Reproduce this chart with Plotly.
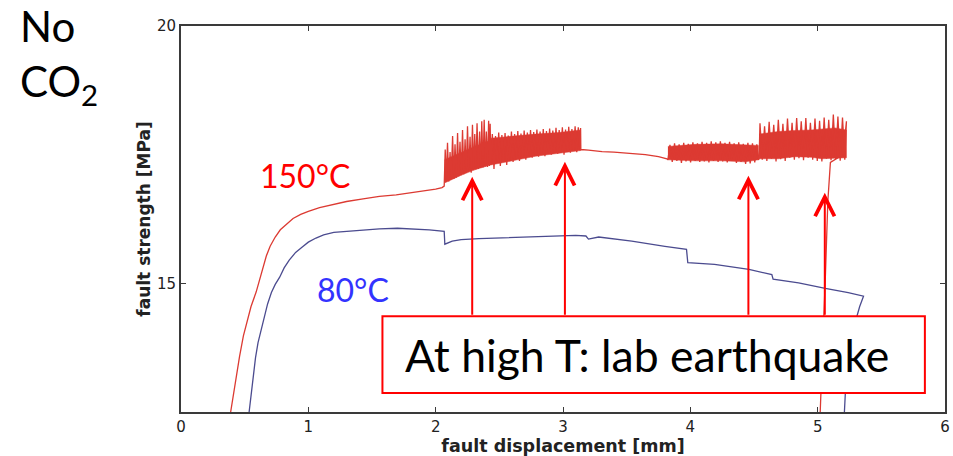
import plotly.graph_objects as go

# ---------------- data ----------------
# 150 °C run: loading branch
red_load_x = [0.39, 0.41, 0.436, 0.46, 0.49, 0.52, 0.55, 0.59, 0.63, 0.67, 0.70, 0.74, 0.78, 0.83, 0.88, 0.94, 1.0, 1.088, 1.2, 1.30, 1.43, 1.558, 1.69, 1.817, 1.93, 2.0, 2.05, 2.067]
red_load_y = [12.5, 12.82, 13.2, 13.58, 13.98, 14.28, 14.55, 14.83, 15.2, 15.53, 15.72, 15.9, 16.04, 16.16, 16.26, 16.34, 16.40, 16.47, 16.54, 16.59, 16.64, 16.69, 16.72, 16.76, 16.80, 16.83, 16.86, 16.89]

# stick-slip region A
red_a_x = [2.075, 2.083, 2.093, 2.103, 2.113, 2.122, 2.133, 2.143, 2.152, 2.162, 2.172, 2.181, 2.191, 2.201, 2.211, 2.221, 2.231, 2.240, 2.250, 2.260, 2.270, 2.279, 2.289, 2.298, 2.307, 2.315, 2.325, 2.335, 2.345, 2.355, 2.362, 2.372, 2.381, 2.390, 2.398, 2.407, 2.416, 2.423, 2.428]
red_a_y = [17.60, 17.00, 17.73, 16.98, 17.55, 17.02, 17.86, 17.03, 17.70, 17.05, 17.92, 17.08, 17.75, 17.10, 17.98, 17.12, 17.80, 17.15, 18.05, 17.18, 17.85, 17.15, 18.08, 17.20, 17.90, 17.21, 18.11, 17.22, 17.95, 17.24, 18.15, 17.25, 18.18, 17.27, 17.95, 17.26, 18.16, 17.28, 18.10]

# stick-slip region B
red_b_x = [2.433, 2.445, 2.458, 2.470, 2.483, 2.495, 2.508, 2.520, 2.533, 2.545, 2.558, 2.570, 2.583, 2.595, 2.608, 2.620, 2.633, 2.645, 2.658, 2.670, 2.683, 2.695, 2.708, 2.720, 2.733, 2.745, 2.758, 2.770, 2.783, 2.795, 2.808, 2.820, 2.833, 2.845, 2.858, 2.870, 2.883, 2.895, 2.908, 2.920, 2.933, 2.945, 2.958, 2.970, 2.983, 2.995, 3.008, 3.020, 3.033, 3.045, 3.058, 3.070, 3.083, 3.095, 3.108, 3.120, 3.133, 3.138]
red_b_y = [17.30, 17.90, 17.22, 17.86, 17.35, 17.93, 17.28, 17.88, 17.38, 17.92, 17.30, 17.87, 17.40, 17.95, 17.36, 17.90, 17.42, 17.96, 17.38, 17.91, 17.45, 17.97, 17.40, 17.93, 17.47, 17.98, 17.44, 17.94, 17.49, 17.99, 17.46, 17.95, 17.50, 18.00, 17.47, 17.96, 17.52, 18.01, 17.50, 17.97, 17.54, 18.02, 17.52, 17.98, 17.55, 18.03, 17.50, 17.99, 17.56, 18.04, 17.54, 18.00, 17.57, 18.05, 17.55, 18.03, 17.58, 18.02]

# stable sliding between B and C
red_slide_x = [3.140, 3.20, 3.307, 3.40, 3.516, 3.647, 3.75, 3.816]
red_slide_y = [17.60, 17.59, 17.56, 17.55, 17.53, 17.50, 17.46, 17.42]

# stick-slip region C
red_c_x = [3.824, 3.840, 3.858, 3.876, 3.894, 3.912, 3.930, 3.948, 3.966, 3.984, 4.002, 4.020, 4.038, 4.056, 4.074, 4.092, 4.110, 4.128, 4.146, 4.164, 4.182, 4.200, 4.218, 4.236, 4.254, 4.272, 4.290, 4.308, 4.326, 4.344, 4.362, 4.380, 4.398, 4.416, 4.434, 4.452, 4.470, 4.488, 4.506, 4.522, 4.534]
red_c_y = [17.40, 17.69, 17.36, 17.72, 17.38, 17.70, 17.34, 17.73, 17.37, 17.71, 17.35, 17.74, 17.38, 17.72, 17.36, 17.75, 17.37, 17.73, 17.35, 17.76, 17.38, 17.74, 17.36, 17.76, 17.37, 17.73, 17.35, 17.75, 17.38, 17.72, 17.34, 17.74, 17.36, 17.71, 17.32, 17.73, 17.33, 17.72, 17.35, 17.70, 17.40]

# stick-slip region D
red_d_x = [4.540, 4.547, 4.565, 4.583, 4.601, 4.619, 4.637, 4.655, 4.673, 4.691, 4.709, 4.727, 4.745, 4.763, 4.781, 4.799, 4.817, 4.835, 4.853, 4.871, 4.889, 4.907, 4.925, 4.943, 4.961, 4.979, 4.997, 5.015, 5.033, 5.051, 5.069, 5.087, 5.105, 5.123, 5.141, 5.159, 5.177, 5.195, 5.213, 5.226]
red_d_y = [17.42, 18.11, 17.40, 18.05, 17.38, 18.14, 17.42, 18.08, 17.37, 18.18, 17.41, 18.10, 17.38, 18.20, 17.44, 18.12, 17.40, 18.21, 17.43, 18.15, 17.39, 18.21, 17.44, 18.12, 17.40, 18.20, 17.38, 18.16, 17.37, 18.22, 17.42, 18.18, 17.39, 18.28, 17.41, 18.24, 17.38, 18.22, 17.40, 18.15]

# unloading of the 150 °C run
red_unload_x = [5.20, 5.10, 5.08, 5.06, 5.04, 5.02]
red_unload_y = [17.50, 17.35, 16.60, 15.10, 13.80, 12.5]

# solid cores of the stick-slip bands (upper edge forward, lower edge back)
core_a_x = [2.07, 2.2, 2.3, 2.43, 2.43, 2.3, 2.2, 2.07]
core_a_y = [17.40, 17.55, 17.65, 17.78, 17.30, 17.20, 17.10, 16.95]
core_b_x = [2.433, 2.602, 2.785, 2.968, 3.138, 3.138, 2.968, 2.785, 2.602, 2.433]
core_b_y = [17.82, 17.86, 17.90, 17.93, 17.98, 17.58, 17.53, 17.47, 17.38, 17.30]
core_c_x = [3.824, 4.038, 4.247, 4.43, 4.534, 4.534, 4.43, 4.247, 4.038, 3.824]
core_c_y = [17.66, 17.70, 17.71, 17.69, 17.68, 17.40, 17.36, 17.38, 17.38, 17.40]
core_d_x = [4.540, 4.691, 4.821, 4.951, 5.135, 5.226, 5.226, 5.03, 4.951, 4.821, 4.691, 4.540]
core_d_y = [17.90, 17.95, 17.97, 17.98, 18.02, 17.98, 17.44, 17.42, 17.45, 17.46, 17.42, 17.42]

# 80 °C run
blue_x = [0.535, 0.55, 0.566, 0.585, 0.605, 0.625, 0.65, 0.68, 0.71, 0.74, 0.775, 0.81, 0.85, 0.9, 0.95, 1.0, 1.06, 1.12, 1.2, 1.30, 1.43, 1.558, 1.70, 1.817, 1.95, 2.067, 2.072, 2.13, 2.2, 2.34, 2.6, 2.9, 3.1, 3.18, 3.2, 3.28, 3.54, 3.80, 3.97, 3.98, 4.19, 4.46, 4.64, 4.65, 4.85, 5.06, 5.24, 5.36, 5.33, 5.29, 5.25, 5.22, 5.21]
blue_y = [12.5, 12.85, 13.2, 13.55, 13.85, 14.05, 14.3, 14.6, 14.82, 14.98, 15.12, 15.3, 15.45, 15.6, 15.7, 15.8, 15.88, 15.94, 15.99, 16.01, 16.04, 16.06, 16.07, 16.06, 16.04, 16.01, 15.76, 15.82, 15.85, 15.87, 15.89, 15.92, 15.93, 15.92, 15.86, 15.90, 15.82, 15.72, 15.66, 15.40, 15.37, 15.27, 15.17, 15.08, 15.01, 14.90, 14.82, 14.75, 14.55, 14.2, 13.6, 13.0, 12.5]

# arrows: tip positions (x, y) of the "lab earthquake" arrows
arrow_x = [2.287, 3.015, 4.456, 5.056]
arrow_y = [17.07, 17.36, 17.09, 16.76]

x_ticks = [0, 1, 2, 3, 4, 5, 6]
y_ticks = [15, 20]

# ---------------- figure ----------------
RED = "#dc3a32"
BLUE = "#4b4b8f"
AX = "#3a3a3a"

fig = go.Figure()

for cx, cy in [(core_a_x, core_a_y), (core_b_x, core_b_y), (core_c_x, core_c_y), (core_d_x, core_d_y)]:
    fig.add_trace(go.Scatter(x=cx, y=cy, mode="lines", fill="toself", fillcolor=RED,
                             line=dict(color=RED, width=0.5), hoverinfo="skip", showlegend=False))

red_x = red_load_x + red_a_x + red_b_x + red_slide_x + red_c_x + red_d_x + red_unload_x
red_y = red_load_y + red_a_y + red_b_y + red_slide_y + red_c_y + red_d_y + red_unload_y
fig.add_trace(go.Scatter(x=red_x, y=red_y, mode="lines", line=dict(color=RED, width=1.3),
                         name="150°C", showlegend=False))
fig.add_trace(go.Scatter(x=blue_x, y=blue_y, mode="lines", line=dict(color=BLUE, width=1.3),
                         name="80°C", showlegend=False))

# box covering the curves
box_x0, box_x1, box_y0, box_y1 = 1.582, 5.842, 12.868, 14.36
fig.add_shape(type="rect", xref="x", yref="y", x0=box_x0, x1=box_x1, y0=box_y0, y1=box_y1,
              line=dict(color="#ff0000", width=2), fillcolor="white", layer="above")

for ax_, ay_ in zip(arrow_x, arrow_y):
    fig.add_annotation(x=ax_, y=ay_, ax=ax_, ay=box_y1, xref="x", yref="y", axref="x", ayref="y",
                       text="", showarrow=True, arrowhead=5, arrowsize=1.9, arrowwidth=2,
                       arrowcolor="#ff0000", standoff=0)

BIG = "Lato"
fig.add_annotation(x=(box_x0 + box_x1) / 2 - 0.05, y=(box_y0 + box_y1) / 2, xref="x", yref="y",
                   text="At high T: lab earthquake", showarrow=False,
                   font=dict(family=BIG, size=44.5, color="black"))
fig.add_annotation(x=0.971, y=17.09, xref="x", yref="y", text="150°C", showarrow=False,
                   font=dict(family=BIG, size=32, color="#ff0000"))
fig.add_annotation(x=1.347, y=14.88, xref="x", yref="y", text="80°C", showarrow=False,
                   font=dict(family=BIG, size=32, color="#3333ff"))
fig.add_annotation(x=-0.214, y=1.0, xref="paper", yref="paper", xanchor="left", yanchor="middle",
                   text="No", showarrow=False, font=dict(family=BIG, size=42, color="black"))
fig.add_annotation(x=-0.214, y=0.85, xref="paper", yref="paper", xanchor="left", yanchor="middle",
                   text="CO<sub>2</sub>", showarrow=False, font=dict(family=BIG, size=42, color="black"))

fig.update_xaxes(range=[0, 6], tickvals=x_ticks, ticks="inside", ticklen=5, tickcolor=AX,
                 showline=True, linecolor=AX, linewidth=2, mirror="ticks", showgrid=False, zeroline=False,
                 tickfont=dict(family="DejaVu Sans", size=15, color="#222"),
                 title=dict(text="<b>fault displacement [mm]</b>", standoff=0,
                            font=dict(family="DejaVu Sans", size=17.5, color="#222")))
fig.update_yaxes(range=[12.5, 20], tickvals=y_ticks, ticks="inside", ticklen=5, tickcolor=AX,
                 showline=True, linecolor=AX, linewidth=2, mirror="ticks", showgrid=False, zeroline=False,
                 tickfont=dict(family="DejaVu Sans", size=15, color="#222"),
                 title=dict(text="<b>fault strength [MPa]</b>", standoff=2,
                            font=dict(family="DejaVu Sans", size=17, color="#222")))

fig.update_layout(width=953, height=456, margin=dict(l=181, r=3, t=26, b=44),
                  plot_bgcolor="white", paper_bgcolor="white")

fig.write_html("out.html")
